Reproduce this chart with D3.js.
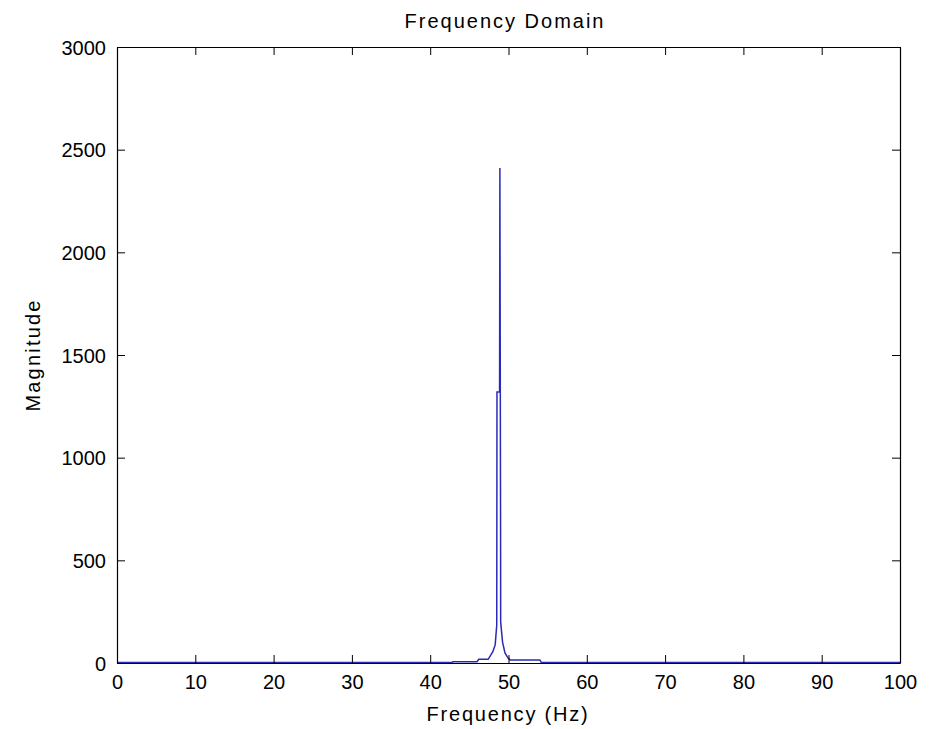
<!DOCTYPE html>
<html><head><meta charset="utf-8">
<script src="https://cdn.jsdelivr.net/npm/d3@7"></script>
<style>
body{margin:0;background:#fff;}
text{font-family:"Liberation Sans",Arial,sans-serif;fill:#000;}
</style></head>
<body><svg id="c" width="933" height="729"></svg>
<script>
const freqHz = [0, 10, 20, 30, 40, 42.8, 42.9, 45.98, 46.2, 47.4, 48.0, 48.3, 48.5, 48.53, 48.86, 48.9, 48.99, 49.0, 49.24, 49.55, 49.94, 50.2, 54.0, 54.2, 60, 70, 80, 90, 100];
const magnitude = [2, 2, 2, 2, 2, 2, 6, 6, 18, 18, 55, 88, 185, 1320, 1320, 2411, 600, 200, 102, 49, 24, 15, 15, 2, 2, 2, 2, 2, 2];
const xTicks = [0, 10, 20, 30, 40, 50, 60, 70, 80, 90, 100];
const yTicks = [0, 500, 1000, 1500, 2000, 2500, 3000];
const titleText = "Frequency Domain";
const xLabel = "Frequency (Hz)";
const yLabel = "Magnitude";

const svg = d3.select("#c");
const L = 117, R = 900, T = 47, B = 663;
const x = d3.scaleLinear().domain([0, 100]).range([L, R]);
const y = d3.scaleLinear().domain([0, 3000]).range([B, T]);
const fs = 20;

svg.append("rect").attr("x", L).attr("y", T).attr("width", R - L).attr("height", B - T)
  .attr("fill", "#fff").attr("stroke", "none");

const pts = freqHz.map((f, i) => [f, magnitude[i]]);
svg.append("path").datum(pts)
  .attr("d", d3.line().x(d => x(d[0])).y(d => y(d[1])))
  .attr("fill", "none").attr("stroke", "#2a2ab8").attr("stroke-width", 1.5);

const tl = 8;
const fmt = d3.format("d");
const axB = svg.append("g").attr("transform", `translate(0,${B})`)
  .call(d3.axisBottom(x).tickValues(xTicks).tickSizeInner(-tl).tickSizeOuter(0).tickPadding(12).tickFormat(fmt));
const axT = svg.append("g").attr("transform", `translate(0,${T})`)
  .call(d3.axisTop(x).tickValues(xTicks).tickSizeInner(-tl).tickSizeOuter(0).tickFormat(""));
const axL = svg.append("g").attr("transform", `translate(${L},0)`)
  .call(d3.axisLeft(y).tickValues(yTicks).tickSizeInner(-tl).tickSizeOuter(0).tickPadding(11).tickFormat(fmt));
const axR = svg.append("g").attr("transform", `translate(${R},0)`)
  .call(d3.axisRight(y).tickValues(yTicks).tickSizeInner(-tl).tickSizeOuter(0).tickFormat(""));
[axB, axT, axL, axR].forEach(a => {
  a.selectAll(".domain").attr("stroke", "#000").attr("stroke-width", 1.2);
  a.selectAll(".tick line").attr("stroke", "#000").attr("stroke-width", 1);
  a.selectAll("text").attr("font-size", fs).attr("font-family", "Liberation Sans, Arial, sans-serif")
    .attr("fill", "#111");
});
axB.selectAll("text").attr("dy", "0.71em");
axL.selectAll("text").attr("dy", "0.36em");

svg.append("text").attr("x", 505).attr("y", 28).attr("text-anchor", "middle")
  .attr("font-size", 20).attr("letter-spacing", 2).text(titleText);
svg.append("text").attr("x", 508).attr("y", 721).attr("text-anchor", "middle")
  .attr("font-size", 20).attr("letter-spacing", 1.8).text(xLabel);
svg.append("text").attr("transform", `translate(40,355) rotate(-90)`).attr("text-anchor", "middle")
  .attr("font-size", 20).attr("letter-spacing", 2.2).text(yLabel);
</script></body></html>
